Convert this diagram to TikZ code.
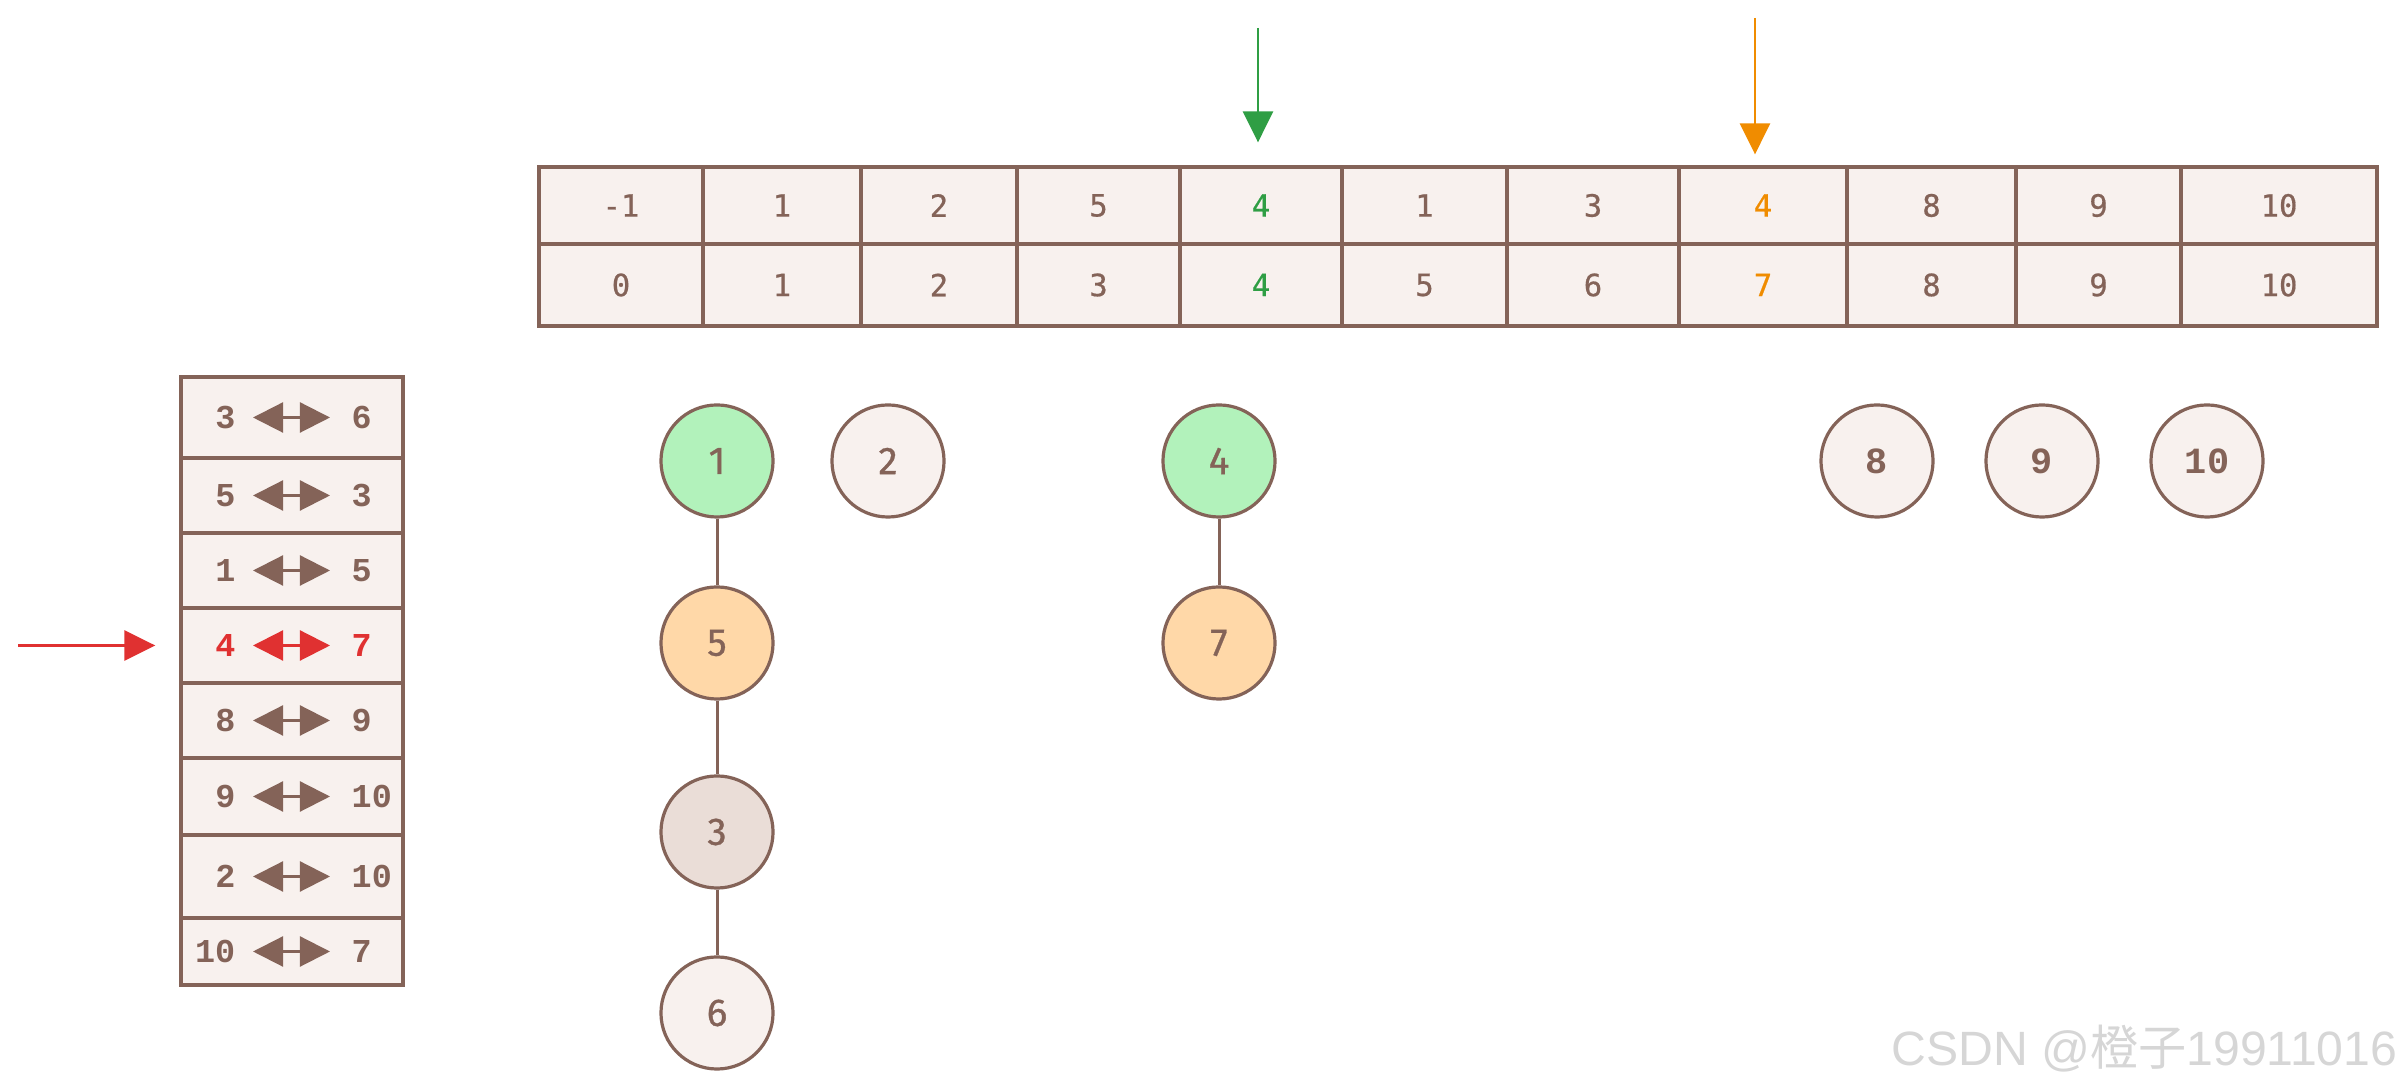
\documentclass[tikz,border=0pt]{standalone}
\usepackage{fontspec}
\setsansfont{Liberation Sans}
\setmonofont{Liberation Mono}
\newfontfamily\cellfont{DejaVu Sans Mono}[FakeBold=0.6]
\newfontfamily\roundfont{Fira Sans}[FakeBold=0.8]
\newfontfamily\cjk{Noto Sans CJK SC}
\usetikzlibrary{arrows.meta}
\definecolor{ink}{HTML}{846358}
\definecolor{paper}{HTML}{F8F1EE}
\definecolor{paperdk}{HTML}{EADDD7}
\definecolor{gfill}{HTML}{B2F2BB}
\definecolor{ofill}{HTML}{FFD8A8}
\definecolor{gline}{HTML}{2F9E44}
\definecolor{oline}{HTML}{F08C00}
\definecolor{rline}{HTML}{E03131}
\tikzset{
  cell/.style={draw=ink, line width=0.032cm, fill=paper, inner sep=0pt, minimum height=#1,
               font=\cellfont\fontsize{8.7}{8.7}\selectfont},
  cell/.default=0.77cm,
  rowbox/.style={draw=ink, line width=0.032cm, fill=paper, minimum width=2.22cm,
                 minimum height=#1, inner sep=0pt},
  num/.style={inner sep=0pt, font=\ttfamily\bfseries\fontsize{9.5}{9.5}\selectfont},
  swp/.style={{Triangle[length=0.3cm, width=0.3cm]}-{Triangle[length=0.3cm, width=0.3cm]},
              line width=0.022cm, draw=#1, shorten <=0.17cm, shorten >=0.21cm},
  ptr/.style={-{Triangle[length=0.31cm, width=0.3cm]}, line width=0.028cm, draw=#1},
  dsu/.style={circle, draw=ink, line width=0.032cm, fill=#1, minimum size=1.12cm, inner sep=0pt,
              text=ink, font=\roundfont\fontsize{11}{11}\selectfont},
  dsu/.default=paper,
  tie/.style={draw=ink, line width=0.03cm},
}
\begin{document}
\begin{tikzpicture}[x=0.01cm, y=-0.01cm]
  \useasboundingbox (0,0) rectangle (2402,1089);

  \foreach \k/\l/\r/\p/\c in {0/539/703/-1/ink, 1/703/861/1/ink, 2/861/1017/2/ink, 3/1017/1180/5/ink,
                              4/1180/1342/4/gline, 5/1342/1507/1/ink, 6/1507/1679/3/ink,
                              7/1679/1847/4/oline, 8/1847/2016/8/ink, 9/2016/2181/9/ink,
                              10/2181/2377/10/ink}{
    \pgfmathsetmacro{\cx}{(\l+\r)/2}
    \pgfmathsetmacro{\w}{(\r-\l)/100}
    \node[cell, minimum width=\w cm, text=\c] (par\k) at (\cx,205.5) {\p};
    \node[cell=0.82cm, minimum width=\w cm, text=\c] (idx\k) at (\cx,285) {\k};
  }
  \coordinate (gtail) at (1258,28);
  \coordinate (otail) at (1755,18);
  \draw[ptr=gline, shorten >=0.23cm] (gtail) -- (gtail |- par4.north);
  \draw[ptr=oline, shorten >=0.11cm] (otail) -- (otail |- par7.north);

  \foreach \r/\yc/\h/\a/\b/\c in {1/417.5/0.81/3/6/ink, 2/495.5/0.75/5/3/ink, 3/570.5/0.75/1/5/ink,
                                  4/645.5/0.75/4/7/rline, 5/720.5/0.75/8/9/ink, 6/796.5/0.77/9/10/ink,
                                  7/876.5/0.83/2/10/ink, 8/951.5/0.67/10/7/ink}{
    \node[rowbox=\h cm] (row\r) at (292,\yc) {};
    \node[num, text=\c, anchor=east] (a\r) at (236,\yc) {\a};
    \node[num, text=\c, anchor=west] (b\r) at (351,\yc) {\b};
    \draw[swp=\c] (a\r.east) -- (b\r.west);
  }
  \coordinate (rtail) at (18,645.5);
  \draw[ptr=rline, shorten >=0.24cm] (rtail) -- (row4.west);

  \node[dsu=gfill] (n1) at (717,461) {1};
  \node[dsu] (n2) at (888,461) {2};
  \node[dsu=gfill] (n4) at (1219,461) {4};
  \node[dsu=ofill] (n5) at (717,643) {5};
  \node[dsu=ofill] (n7) at (1219,643) {7};
  \node[dsu=paperdk] (n3) at (717,832) {3};
  \node[dsu] (n6) at (717,1013) {6};
  \foreach \v/\x in {8/1877, 9/2042, 10/2207}
    \node[dsu, font=\ttfamily\bfseries\fontsize{10.5}{10.5}\selectfont] (n\v) at (\x,461) {\v};
  \draw[tie] (n1) -- (n5);
  \draw[tie] (n5) -- (n3);
  \draw[tie] (n3) -- (n6);
  \draw[tie] (n4) -- (n7);

  \node[anchor=east, inner sep=0pt, text=black!16, font=\sffamily\fontsize{13.7}{13.7}\selectfont] (mark)
    at (2398,1049) {CSDN @{\cjk 橙子}19911016};
\end{tikzpicture}
\end{document}
